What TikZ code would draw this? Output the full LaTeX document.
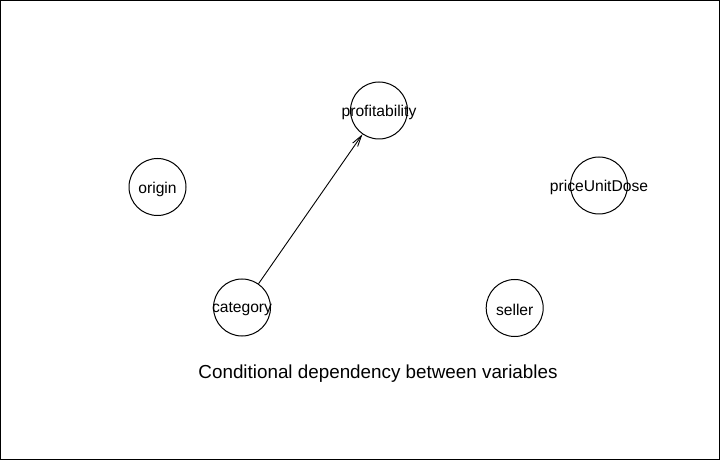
\documentclass[tikz,border=0pt]{standalone}
\usepackage{fontspec}
\setmainfont{Liberation Sans}
\usetikzlibrary{arrows.meta}
\begin{document}
\begin{tikzpicture}[x=1bp,y=-1bp,
  varnode/.style={circle,draw,line width=1bp,minimum size=57bp,inner sep=0pt},
  varlabel/.style={font=\fontsize{15.7}{18}\selectfont,inner sep=0pt,yshift=-2bp},
  edge/.style={line width=0.9bp,-{Straight Barb[length=11bp,width=6bp]}}]
\useasboundingbox (0,0) rectangle (720,460);
\draw[line width=1bp] (0.5,0.5) rectangle (719.5,459.5);
\node[varnode,label={[varlabel]center:profitability}] (prof) at (379,110.5) {};
\node[varnode,label={[varlabel]center:origin}] (orig) at (157.5,187) {};
\node[varnode,label={[varlabel]center:priceUnitDose}] (price) at (599,185.5) {};
\node[varnode,label={[varlabel]center:category}] (cat) at (242,307.5) {};
\node[varnode,label={[varlabel]center:seller}] (sell) at (514.7,308) {};
\draw[edge] (cat) -- (prof);
\node[font=\fontsize{18.9}{22}\selectfont,inner sep=0pt] (title) at (378,373.5) {Conditional dependency between variables};
\end{tikzpicture}
\end{document}
